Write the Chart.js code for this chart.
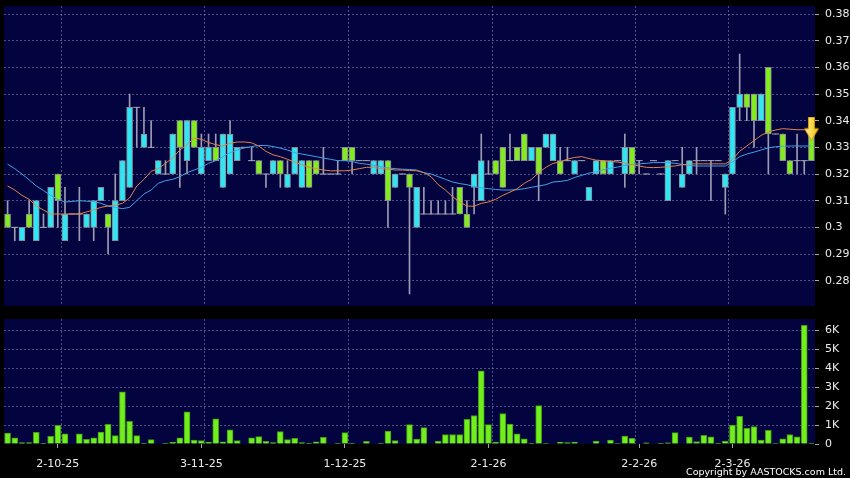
<!DOCTYPE html>
<html>
<head>
<meta charset="utf-8">
<title>Chart</title>
<script src="https://cdn.jsdelivr.net/npm/chart.js@4.4.1/dist/chart.umd.min.js"></script>
<style>
  html, body { margin: 0; padding: 0; background: #000; }
  #wrap { position: relative; width: 850px; height: 478px; overflow: hidden; background: #000; }
  #graficoPrecio { position: absolute; left: 0; top: 0; }
  #graficoVolumen { position: absolute; left: 0; top: 312px; }
  #copy { position: absolute; right: 4px; bottom: 1px; color: #fff; font: 9.5px 'DejaVu Sans', sans-serif; }
</style>
</head>
<body>
<div id="wrap">
  <canvas id="graficoPrecio" width="850" height="312"></canvas>
  <canvas id="graficoVolumen" width="850" height="166"></canvas>
  <div id="copy">Copyright by AASTOCKS.com Ltd.</div>
</div>
<script>
var openP = [.305,.30,.295,.305,.295,.30,.30,.32,.295,.305,
  .305,.30,.30,.31,.305,.295,.31,.315,.345,.33,
  .33,.32,.32,.32,.34,.325,.34,.32,.325,.33,
  .315,.32,.325,.33,.325,.325,.32,.32,.325,.315,
  .32,.315,.325,.325,.32,.32,.32,.33,.33,.325,
  .325,.32,.32,.325,.315,.32,.32,.30,.305,.305,
  .305,.305,.305,.315,.305,.315,.31,.32,.325,.33,
  .325,.33,.335,.325,.33,.33,.325,.325,.325,.32,
  .325,.31,.32,.325,.32,.325,.32,.33,.325,.32,
  .325,.32,.31,.325,.315,.32,.325,.325,.325,.325,
  .315,.32,.345,.35,.35,.34,.36,.335,.335,.325,
  .325,.325,.335];
var highP = [.31,.30,.30,.31,.31,.305,.315,.32,.315,.305,
  .315,.305,.31,.315,.305,.32,.325,.35,.345,.345,
  .34,.325,.325,.335,.34,.34,.34,.335,.335,.335,
  .335,.34,.33,.33,.33,.325,.32,.325,.325,.325,
  .33,.325,.325,.325,.33,.32,.325,.33,.33,.325,
  .325,.325,.325,.325,.32,.32,.32,.315,.315,.31,
  .31,.31,.315,.315,.31,.32,.335,.325,.325,.33,
  .335,.33,.335,.33,.33,.335,.335,.33,.33,.325,
  .325,.315,.325,.325,.325,.325,.335,.33,.325,.32,
  .325,.32,.325,.325,.33,.325,.33,.325,.325,.325,
  .32,.345,.365,.35,.35,.35,.36,.335,.335,.325,
  .335,.325,.335];
var lowP = [.30,.295,.295,.30,.295,.30,.30,.30,.295,.305,
  .295,.30,.295,.31,.29,.295,.31,.315,.33,.33,
  .33,.32,.32,.32,.315,.32,.33,.32,.325,.325,
  .315,.32,.325,.33,.325,.32,.315,.32,.315,.315,
  .32,.315,.315,.32,.32,.32,.32,.325,.32,.325,
  .325,.32,.32,.30,.315,.32,.275,.30,.305,.305,
  .305,.305,.305,.305,.30,.305,.31,.32,.32,.315,
  .325,.325,.325,.325,.31,.33,.325,.32,.325,.32,
  .325,.31,.32,.32,.32,.325,.315,.32,.32,.32,
  .325,.32,.31,.325,.315,.32,.32,.325,.31,.325,
  .305,.32,.34,.34,.33,.34,.32,.335,.325,.32,
  .32,.32,.325];
var closeP = [.30,.30,.30,.30,.31,.30,.315,.31,.305,.305,
  .305,.305,.31,.315,.30,.31,.325,.345,.345,.335,
  .33,.325,.32,.335,.33,.34,.33,.33,.33,.325,
  .335,.335,.33,.33,.325,.32,.32,.325,.32,.32,
  .33,.325,.315,.32,.32,.32,.32,.325,.325,.325,
  .325,.325,.325,.31,.32,.32,.315,.315,.305,.305,
  .305,.305,.305,.305,.30,.32,.325,.32,.32,.315,
  .325,.325,.325,.33,.32,.335,.335,.32,.325,.325,
  .325,.315,.325,.32,.325,.325,.33,.32,.325,.32,
  .325,.32,.325,.325,.32,.325,.325,.325,.325,.325,
  .32,.345,.35,.345,.34,.35,.335,.335,.325,.32,
  .325,.325,.325];
var volume = [580,320,70,70,610,20,400,980,530,0,
  530,250,320,630,1030,440,2740,1190,440,50,
  230,0,50,90,320,1700,210,180,100,1320,
  120,740,180,0,330,390,140,70,650,230,
  300,70,20,120,350,0,50,600,50,0,
  140,0,50,680,180,0,1020,260,860,0,
  150,500,500,500,1300,1500,3850,1020,100,1600,
  1050,530,270,20,2020,30,0,100,80,100,
  0,0,150,0,200,30,420,300,0,60,
  0,40,60,600,0,370,130,450,380,20,
  150,1000,1450,820,920,200,720,30,270,500,
  380,6250,50];
var ma10 = [.3155,.314,.312,.3105,.308,.3065,.305,.305,.305,.305,
  .305,.3058,.3065,.3075,.308,.3083,.309,.311,.3155,.318,
  .321,.322,.324,.326,.329,.331,.3335,.333,.3318,.331,
  .3305,.3315,.332,.332,.3317,.3305,.3285,.3272,.3265,.3255,
  .3245,.3235,.3225,.322,.3215,.3212,.3212,.3212,.3215,.322,
  .3225,.3225,.322,.3218,.3215,.3215,.3213,.3212,.3205,.319,
  .316,.314,.3115,.3095,.308,.3079,.309,.3095,.3105,.312,
  .3132,.3145,.3165,.318,.3205,.3225,.324,.3245,.3256,.3262,
  .3265,.3258,.3252,.325,.3247,.3245,.324,.3235,.323,.3225,
  .3224,.3225,.3228,.323,.3235,.3237,.3238,.3238,.3238,.3238,
  .3238,.3255,.3285,.3305,.3325,.3345,.3358,.3365,.337,.3368,
  .3366,.3366,.337];
var ma20 = [.3237,.322,.320,.3178,.3155,.3138,.312,.3105,.3095,.3097,
  .310,.3098,.3097,.309,.308,.3075,.307,.3075,.310,.3125,
  .314,.3165,.3175,.318,.319,.3205,.3215,.3225,.324,.325,
  .3265,.328,.329,.3298,.3303,.3307,.3307,.3303,.3297,.329,
  .328,.3275,.327,.3265,.326,.3255,.325,.325,.3247,.324,
  .3237,.3232,.3227,.3223,.322,.3218,.3217,.3215,.3205,.32,
  .319,.318,.317,.3164,.316,.3153,.3148,.3145,.3142,.314,
  .314,.3141,.3145,.315,.3155,.316,.317,.3172,.3176,.3187,
  .3195,.3203,.3208,.3216,.3222,.3226,.3232,.3236,.3238,.324,
  .3243,.3243,.3243,.324,.3236,.3232,.323,.323,.323,.323,
  .323,.3245,.3265,.3275,.3282,.329,.3298,.3302,.3304,.3305,
  .3305,.3305,.3305];
var dateIdx = [7, 27, 47, 67, 88, 101];
var dateText = ['2-10-25', '3-11-25', '1-12-25', '2-1-26', '2-2-26', '2-3-26'];
var monthIdx = [8, 28, 48, 68, 88, 101];
var priceTicks = [0.28, 0.29, 0.30, 0.31, 0.32, 0.33, 0.34, 0.35, 0.36, 0.37, 0.38];
var volTicks = [0, 1000, 2000, 3000, 4000, 5000, 6000];
var signalIdx = 112;
var signalPrice = 0.337;

document.addEventListener('DOMContentLoaded', function () {
  var navy = '#03033f';
  var gridColor = 'rgba(140,140,190,0.55)';
  var tickMark = '#a8a8a8';
  var upColor = '#2ee6f4';
  var downColor = '#84ec1e';
  var clear = 'rgba(0,0,0,0)';

  Chart.defaults.font.family = "'DejaVu Sans', sans-serif";
  Chart.defaults.font.size = 11;
  Chart.defaults.color = '#ececec';

  var labels = openP.map(function (v, i) {
    var k = dateIdx.indexOf(i);
    return k >= 0 ? dateText[k] : '';
  });

  var wicks = lowP.map(function (l, i) { return [l, highP[i]]; });
  var bodies = openP.map(function (o, i) { return o === closeP[i] ? null : [o, closeP[i]]; });
  var bodyColors = openP.map(function (o, i) { return closeP[i] > o ? upColor : downColor; });
  var dojis = openP.map(function (o, i) { return o === closeP[i] ? o : null; });
  var signal = openP.map(function (o, i) { return i === signalIdx ? signalPrice : null; });

  function makeArrow() {
    var c = document.createElement('canvas');
    c.width = 15;
    c.height = 24;
    var g = c.getContext('2d');
    var grad = g.createLinearGradient(0, 0, 15, 0);
    grad.addColorStop(0, '#fff4a8');
    grad.addColorStop(1, '#f5c000');
    g.fillStyle = grad;
    g.strokeStyle = '#dc9a00';
    g.lineWidth = 1;
    g.beginPath();
    g.moveTo(4.5, 0.5);
    g.lineTo(10.5, 0.5);
    g.lineTo(10.5, 12);
    g.lineTo(14.5, 12);
    g.lineTo(7.5, 23.5);
    g.lineTo(0.5, 12);
    g.lineTo(4.5, 12);
    g.closePath();
    g.fill();
    g.stroke();
    return c;
  }

  var panelBg = {
    id: 'panelBg',
    beforeDraw: function (chart) {
      var a = chart.chartArea;
      chart.ctx.save();
      chart.ctx.fillStyle = navy;
      chart.ctx.fillRect(a.left, a.top, a.right - a.left, a.bottom - a.top);
      chart.ctx.restore();
    }
  };

  // vertical dashed lines at the month boundaries
  function monthGrid() {
    return {
      type: 'category',
      offset: true,
      grid: {
        offset: true,
        drawTicks: false,
        color: function (ctx) { return monthIdx.indexOf(ctx.index) >= 0 ? gridColor : clear; }
      },
      border: { display: false, dash: [2, 2] },
      ticks: { display: false, autoSkip: false },
      afterFit: function (s) { s.height = 0; s.paddingLeft = 0; s.paddingRight = 0; }
    };
  }

  function rightAxis(min, max, values, format, gridFn) {
    return {
      position: 'right',
      min: min,
      max: max,
      grid: { tickLength: 4, tickColor: tickMark, tickBorderDash: [], color: gridFn },
      border: { display: false, dash: [2, 2] },
      ticks: { padding: 6, color: '#ececec', callback: format },
      afterBuildTicks: function (s) {
        s.ticks = values.map(function (v) { return { value: v }; });
      },
      afterFit: function (s) { s.width = 35; s.paddingTop = 0; s.paddingBottom = 0; }
    };
  }

  new Chart(document.getElementById('graficoPrecio'), {
    data: {
      labels: labels,
      datasets: [
        { type: 'bar', data: wicks, backgroundColor: '#9c9cb0', barThickness: 1, grouped: false, order: 5 },
        { type: 'bar', data: bodies, backgroundColor: bodyColors, borderColor: '#8a8a96', borderWidth: 1,
          borderSkipped: false, barThickness: 6, grouped: false, order: 4 },
        { type: 'line', data: dojis, showLine: false, pointStyle: 'line', pointRadius: 3.5,
          pointBorderColor: '#a8a8b8', pointBorderWidth: 1, order: 3 },
        { type: 'line', data: ma20, borderColor: '#3fa2e6', borderWidth: 1, pointRadius: 0, order: 2 },
        { type: 'line', data: ma10, borderColor: '#e2834a', borderWidth: 1, pointRadius: 0, order: 1 },
        { type: 'line', data: signal, showLine: false, pointStyle: makeArrow(), pointRadius: 8, order: 0 }
      ]
    },
    options: {
      responsive: false,
      animation: false,
      layout: { autoPadding: false, padding: { left: 4, right: 0, top: 6, bottom: 6 } },
      plugins: { legend: { display: false }, tooltip: { enabled: false } },
      scales: {
        x: monthGrid(),
        y: rightAxis(0.2705, 0.383, priceTicks,
          function (v) { return String(parseFloat(v.toFixed(2))); },
          gridColor)
      }
    },
    plugins: [panelBg]
  });

  var volAxisX = {
    type: 'category',
    offset: true,
    position: 'bottom',
    grid: {
      offset: false,
      drawOnChartArea: false,
      tickLength: 4,
      color: clear,
      tickColor: function (ctx) { return labels[ctx.index] ? tickMark : clear; }
    },
    border: { display: false },
    ticks: { autoSkip: false, maxRotation: 0, padding: 10, color: '#ececec' },
    afterFit: function (s) { s.height = 34; s.paddingLeft = 0; s.paddingRight = 0; }
  };

  new Chart(document.getElementById('graficoVolumen'), {
    type: 'bar',
    data: {
      labels: labels,
      datasets: [
        { data: volume, backgroundColor: '#72ee1c', borderColor: '#3f9a14', borderWidth: 1,
          barThickness: 6, xAxisID: 'x' }
      ]
    },
    options: {
      responsive: false,
      animation: false,
      layout: { autoPadding: false, padding: { left: 4, right: 0, top: 7, bottom: 0 } },
      plugins: { legend: { display: false }, tooltip: { enabled: false } },
      scales: {
        x: volAxisX,
        xg: monthGrid(),
        y: rightAxis(0, 6580, volTicks,
          function (v) { return v === 0 ? '0' : (v / 1000) + 'K'; },
          function (ctx) { return ctx.tick && ctx.tick.value === 0 ? clear : gridColor; })
      }
    },
    plugins: [panelBg]
  });
});
</script>
</body>
</html>
